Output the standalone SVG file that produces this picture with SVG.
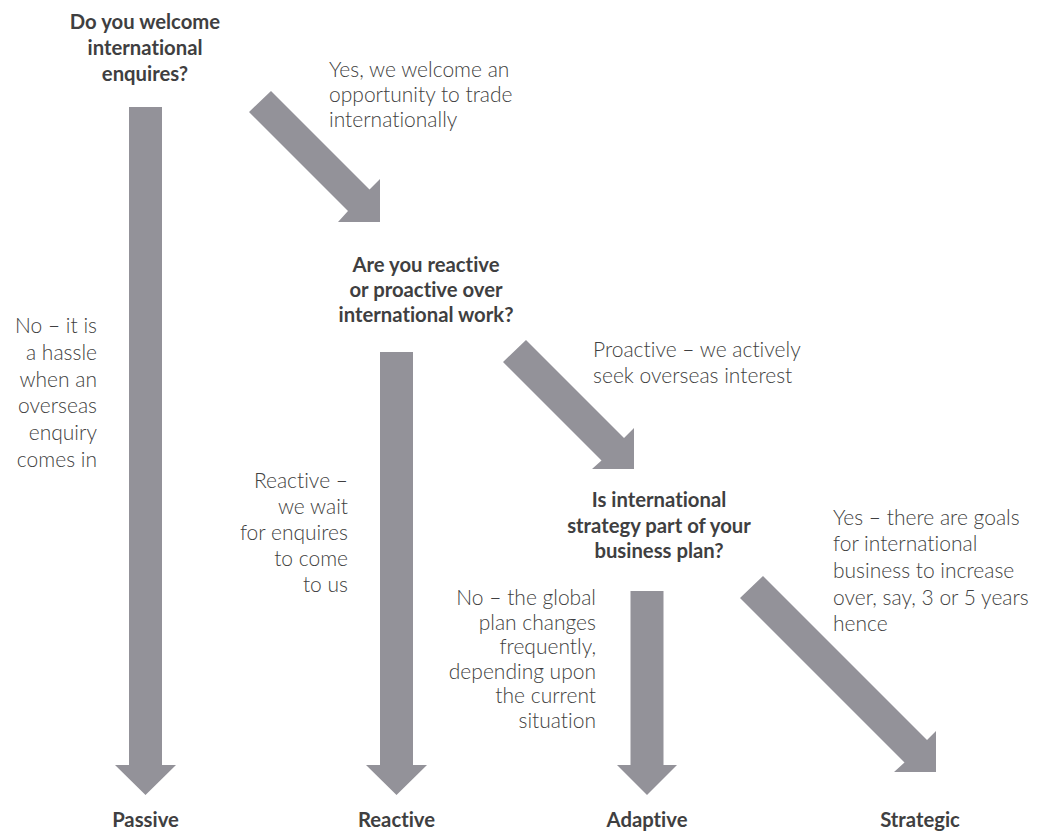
<svg xmlns="http://www.w3.org/2000/svg" width="1037" height="835" viewBox="0 0 1037 835">
<style>
.arrow{fill:#939299;stroke:none}
text{font-variant-ligatures:none;font-feature-settings:"liga" 0,"dlig" 0}
.h{font-family:Lato,"Liberation Sans",sans-serif;font-weight:700;font-size:20.3px;fill:#3f3f41;text-anchor:middle}
.b{font-family:Lato,"Liberation Sans",sans-serif;font-weight:300;font-size:21px;fill:#3f3f41}
.r{text-anchor:end}
</style>
<rect width="1037" height="835" fill="#ffffff"/>
<g id="connectors">
<polygon class="arrow" points="129,107 162,107 162,765 176,765 145.5,795 115,765 129,765"/>
<polygon class="arrow" points="380,352 413,352 413,765 427,765 396.5,795 366,765 380,765"/>
<polygon class="arrow" points="630.5,591 663.5,591 663.5,765 677,765 647,795 617,765 630.5,765"/>
<polygon class="arrow" points="271,91 369.5,189.5 380,179 380,222 338,222 348,211 249,112"/>
<polygon class="arrow" points="526,340 624,438 634,428 634,469 592,469 601.5,460.5 503,362"/>
<polygon class="arrow" points="763,576 927,740 936,731 936,772 894,772 904.5,762.5 740,598"/>
</g>
<g id="q1">
<text class="h" x="145" y="29">Do you welcome</text>
<text class="h" x="145" y="55">international</text>
<text class="h" x="145" y="81">enquires?</text>
</g>
<g id="q2">
<text class="h" x="426" y="272">Are you reactive</text>
<text class="h" x="426" y="297">or proactive over</text>
<text class="h" x="426" y="322">international work?</text>
</g>
<g id="q3">
<text class="h" x="659" y="507">Is international</text>
<text class="h" x="659" y="533">strategy part of your</text>
<text class="h" x="659" y="558">business plan?</text>
</g>
<g id="label-yes1">
<text class="b" x="329" y="77">Yes, we welcome an</text>
<text class="b" x="329" y="102">opportunity to trade</text>
<text class="b" x="329" y="127">internationally</text>
</g>
<g id="label-no1">
<text class="b r" x="97" y="333">No – it is</text>
<text class="b r" x="97" y="360">a hassle</text>
<text class="b r" x="97" y="387">when an</text>
<text class="b r" x="97" y="413">overseas</text>
<text class="b r" x="97" y="440">enquiry</text>
<text class="b r" x="97" y="467">comes in</text>
</g>
<g id="label-reactive">
<text class="b r" x="348" y="488">Reactive –</text>
<text class="b r" x="348" y="514">we wait</text>
<text class="b r" x="348" y="540">for enquires</text>
<text class="b r" x="348" y="566">to come</text>
<text class="b r" x="348" y="592">to us</text>
</g>
<g id="label-proactive">
<text class="b" x="593" y="357">Proactive – we actively</text>
<text class="b" x="593" y="383">seek overseas interest</text>
</g>
<g id="label-yes3">
<text class="b" x="833" y="525">Yes – there are goals</text>
<text class="b" x="833" y="551">for international</text>
<text class="b" x="833" y="578">business to increase</text>
<text class="b" x="833" y="605">over, say, 3 or 5 years</text>
<text class="b" x="833" y="631">hence</text>
</g>
<g id="label-no3">
<text class="b r" x="596" y="605">No – the global</text>
<text class="b r" x="596" y="630">plan changes</text>
<text class="b r" x="596" y="654">frequently,</text>
<text class="b r" x="596" y="679">depending upon</text>
<text class="b r" x="596" y="703">the current</text>
<text class="b r" x="596" y="728">situation</text>
</g>
<g id="passive"><text class="h" x="145.5" y="827">Passive</text></g>
<g id="reactive"><text class="h" x="396.5" y="827">Reactive</text></g>
<g id="adaptive"><text class="h" x="647" y="827">Adaptive</text></g>
<g id="strategic"><text class="h" x="920" y="827">Strategic</text></g>
</svg>
